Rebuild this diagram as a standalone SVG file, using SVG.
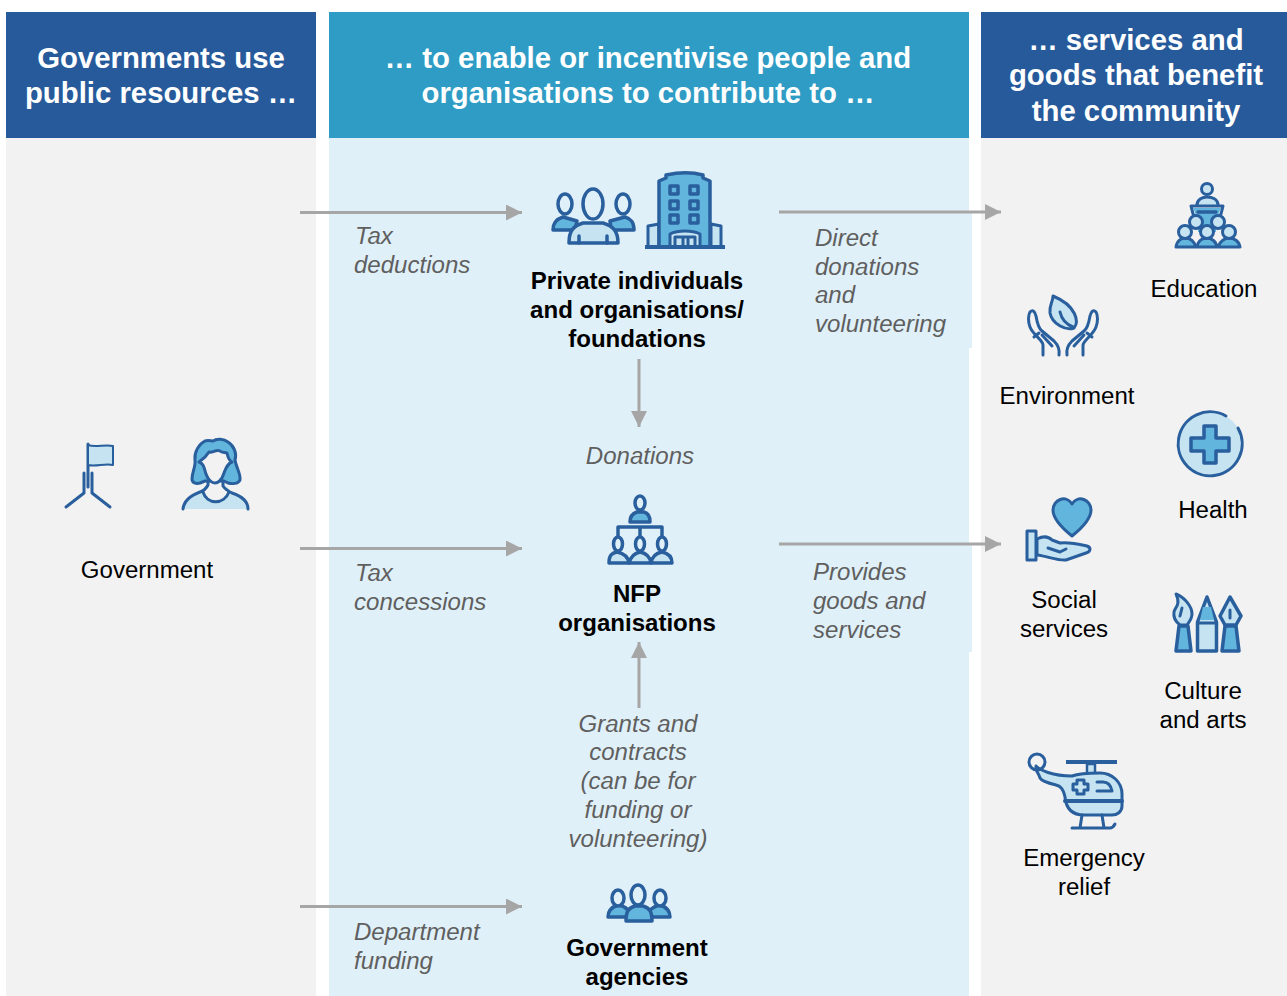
<svg xmlns="http://www.w3.org/2000/svg" width="1287" height="996" viewBox="0 0 1287 996">
<defs>
<marker id="ah" markerUnits="userSpaceOnUse" markerWidth="17" markerHeight="17" refX="16" refY="8" orient="auto"><path d="M0 0L16 8L0 16Z" fill="#a6a6a6"/></marker>
</defs>
<style>
text{font-family:"Liberation Sans",Arial,sans-serif}
.h{font-size:29.33px;font-weight:700;fill:#fff;text-anchor:middle}
.b{font-size:24.05px;fill:#000;text-anchor:middle}
.s{font-size:24.05px;font-weight:700;fill:#000;text-anchor:middle}
.i{font-size:24.05px;font-style:italic;fill:#5f5f5f}
.m{text-anchor:middle}
.c{stroke:#a6a6a6;stroke-width:3;fill:none;marker-end:url(#ah)}
.k{stroke:#2a5f9e;stroke-width:3;fill:none;stroke-linecap:round;stroke-linejoin:round}
.d{stroke:#2a5f9e;stroke-width:3;fill:#62b5dc;stroke-linecap:round;stroke-linejoin:round}
.l{stroke:#2a5f9e;stroke-width:3;fill:#c5e3f1;stroke-linecap:round;stroke-linejoin:round}
.e{stroke:#2a5f9e;stroke-width:3.5;fill:#e0f0f8;stroke-linecap:round;stroke-linejoin:round}
.t{stroke-width:3.5}
</style>
<rect width="1287" height="996" fill="#fff"/>
<g id="panels">
<rect x="6" y="138" width="310" height="858" fill="#f2f2f2"/>
<rect x="329" y="138" width="640" height="858" fill="#e0f0f8"/>
<rect x="969" y="212" width="3" height="136" fill="#e0f0f8"/>
<rect x="969" y="544" width="3" height="108" fill="#e0f0f8"/>
<rect x="981" y="138" width="306" height="858" fill="#f2f2f2"/>
</g>
<g id="header-1"><rect x="6" y="12" width="310" height="126" fill="#265a9b"/>
<text class="h" x="161" y="68">Governments use</text><text class="h" x="161" y="103">public resources …</text></g>
<g id="header-2"><rect x="329" y="12" width="640" height="126" fill="#2e9cc4"/>
<text class="h" x="648" y="68">… to enable or incentivise people and</text><text class="h" x="648" y="103">organisations to contribute to …</text></g>
<g id="header-3"><rect x="981" y="12" width="306" height="126" fill="#265a9b"/>
<text class="h" x="1136" y="50">… services and</text><text class="h" x="1136" y="85">goods that benefit</text><text class="h" x="1136" y="121">the community</text></g>

<g id="connectors">
<path class="c" d="M300 212.500H522"/>
<path class="c" d="M300 548.500H522"/>
<path class="c" d="M300 906.500H522"/>
<path class="c" d="M779 212H1001"/>
<path class="c" d="M779 544H1001"/>
<path class="c" d="M639 359V427"/>
<path class="c" d="M639 708V642"/>
</g>
<g id="connector-labels">
<text class="i" x="355" y="244">Tax</text><text class="i" x="354" y="273">deductions</text>
<text class="i" x="355" y="581">Tax</text><text class="i" x="354" y="610">concessions</text>
<text class="i" x="354" y="940">Department</text><text class="i" x="354" y="969">funding</text>
<text class="i" x="815" y="246">Direct</text><text class="i" x="815" y="275">donations</text><text class="i" x="815" y="303">and</text><text class="i" x="815" y="332">volunteering</text>
<text class="i" x="813" y="580">Provides</text><text class="i" x="813" y="609">goods and</text><text class="i" x="813" y="638">services</text>
<text class="i m" x="640" y="464">Donations</text>
<text class="i m" x="638" y="732">Grants and</text><text class="i m" x="638" y="760">contracts</text><text class="i m" x="638" y="789">(can be for</text><text class="i m" x="638" y="818">funding or</text><text class="i m" x="638" y="847">volunteering)</text>
</g>

<g id="government">
<path class="k" d="M88 444V487M84 473V493L66 507M92 473V493L110 507"/>
<path class="l" d="M88 445C95 448 105 444 113 446V465C105 463 96 467 88 465Z" style="stroke-width:2"/>
<path d="M183 509C184 500 192 495 200 492L208 483H224L232 493C241 496 248 501 248 509Z" fill="#c5e3f1"/>
<path d="M204 491L208 483H224L229 491C224 505 208 505 204 491Z" fill="#f2f2f2"/>
<path class="d" d="M213 441C217 438 224 439 228 442C234 446 237 453 235 460C236 467 241 474 240 480C238 484 232 484 228 483L224 481H205L200 483C196 484 192 483 192 479C192 472 196 466 195 460C194 452 199 444 205 441C208 440 211 441 213 441Z"/>
<path d="M209 452C213 453 216 449 220 451C222 453 225 452 227 453C228 458 230 461 232 462C227 464 226 468 224 473C222 480 218 483 215 483C212 483 208 480 206 474C204 468 204 464 199 462C203 459 206 457 209 452Z" fill="#f2f2f2" stroke="#2a5f9e" stroke-width="3" stroke-linejoin="round"/>
<path class="k" d="M208 481V485C206 489 203 491 200 492C192 495 184 500 183 509M223 481V486C225 489 228 491 232 493C241 496 248 501 248 509M203 492C207 505 224 505 229 492"/>
<text class="b" x="147" y="578">Government</text>
</g>

<g id="private">
<g id="people-3">
<path class="d t" d="M553 230C553 222 557 219 563 217L577 221L575 230Z"/>
<ellipse class="e" cx="565" cy="204" rx="7" ry="10"/>
<path class="d t" d="M611 230L610 221L625 217C631 219 634 222 634 230Z"/>
<ellipse class="e" cx="623" cy="204" rx="7" ry="10"/>
<path class="l t" d="M569 243C569 231 573 226 583 223H603C613 226 618 231 618 243Z"/>
<path class="k t" d="M579 236V243M607 236V243"/>
<ellipse class="e" cx="593" cy="204" rx="10" ry="15"/>
</g>
<g id="building">
<path class="l" d="M648 247V226L659 224V247ZM711 247V224L721 226V247Z"/>
<path class="d t" d="M659 247V181L666 178V175C680 172 692 172 703 175V178L710 181V247Z"/>
<g fill="#62b5dc" stroke="#2a5f9e" stroke-width="3.500" stroke-linejoin="round"><rect x="670" y="186" width="8" height="8"/><rect x="690" y="186" width="8" height="8"/><rect x="670" y="201" width="8" height="8"/><rect x="690" y="201" width="8" height="8"/><rect x="670" y="215" width="8" height="8"/><rect x="690" y="215" width="8" height="8"/></g>
<path class="l" d="M670 247V234C678 230 692 230 700 234V247Z"/>
<path class="k" d="M675 247V237H695V247M683 238V247M688 238V247"/>
<rect x="645" y="245" width="80" height="4" fill="#2a5f9e"/>
</g>
<text class="s" x="637" y="289">Private individuals</text><text class="s" x="637" y="318">and organisations/</text><text class="s" x="637" y="347">foundations</text>
</g>

<g id="nfp">
<ellipse class="e" cx="640" cy="503" rx="5" ry="7"/>
<path class="d t" d="M630 522C630 515 634 513 637 512H644C648 513 650 516 650 522Z"/>
<path class="k t" d="M618 537V527H662V537M640 527V537"/>
<path class="l t" d="M609 563C609 555 612 553 617 552C622 553 628 556 629 563Z"/>
<path class="l t" d="M629 563C631 556 635 553 640 552C645 553 650 556 651 563Z"/>
<path class="l t" d="M651 563C652 556 657 553 662 552C667 553 672 556 672 563Z"/>
<ellipse class="e" cx="618" cy="544" rx="4.500" ry="7"/><ellipse class="e" cx="640" cy="544" rx="4.500" ry="7"/><ellipse class="e" cx="662" cy="544" rx="4.500" ry="7"/>
<text class="s" x="637" y="602">NFP</text><text class="s" x="637" y="631">organisations</text>
</g>

<g id="agencies">
<path class="d t" d="M608 917C608 910 612 907 618 905C624 906 630 909 630 917Z"/>
<path class="d t" d="M648 917C648 910 652 907 660 905C666 907 670 910 670 917Z"/>
<ellipse class="e" cx="618" cy="898" rx="6" ry="8"/><ellipse class="e" cx="660" cy="898" rx="6" ry="8"/>
<path class="d t" d="M626 921C626 912 628 908 635 906H643C650 908 652 912 652 921Z"/>
<ellipse class="e" cx="638" cy="895" rx="7" ry="10"/>
<text class="s" x="637" y="956">Government</text><text class="s" x="637" y="985">agencies</text>
</g>

<g id="education">
<circle class="l" cx="1207" cy="189" r="5.500"/>
<path class="l" d="M1197 205C1197 199 1203 197 1207 197C1212 197 1218 199 1218 205"/>
<path d="M1193 208L1198 220V232H1216V220L1221 208Z" fill="#62b5dc"/>
<path class="k" d="M1191 206H1223L1221 214L1217 219M1191 206L1193 214L1197 219"/>
<path class="k t" d="M1198 212H1216"/>
<path class="d" d="M1176 247C1177 240 1182 238 1185 238C1190 238 1194 241 1196 247ZM1197 247C1198 240 1203 238 1207 238C1211 238 1216 241 1217 247ZM1218 247C1220 241 1225 238 1229 238C1234 238 1239 241 1240 247Z"/>
<circle class="l" cx="1196" cy="222" r="6.500"/><circle class="l" cx="1218" cy="222" r="6.500"/><circle class="l" cx="1185" cy="232" r="6.500"/><circle class="l" cx="1207" cy="232" r="6.500"/><circle class="l" cx="1229" cy="232" r="6.500"/>
<text class="b" x="1204" y="297">Education</text>
</g>
<g id="environment">
<path class="l" d="M1053 296C1053 302 1049 305 1050 313C1052 324 1066 331 1074 328C1079 322 1077 306 1053 296Z"/>
<path class="k" d="M1060 312C1062 321 1068 325 1073 327"/>
<path class="k" d="M1043 355L1043 345C1043 340 1033 335 1030 327C1028 322 1028 315 1030 312C1033 309 1035 312 1036 316C1037 322 1038 328 1042 331L1054 341C1058 345 1060 349 1059 355M1039 333L1034 337M1052 346L1042 335"/>
<path class="k" d="M1083 355L1083 345C1084 340 1093 335 1096 327C1098 322 1098 315 1096 312C1093 309 1091 312 1090 316C1089 322 1088 328 1084 331L1072 341C1068 345 1066 349 1067 355M1087 333L1092 337M1074 346L1084 335"/>
<text class="b" x="1067" y="404">Environment</text>
</g>
<g id="health">
<circle cx="1210" cy="444" r="32" fill="#c5e3f1"/>
<path class="k" d="M1226 416A32 32 0 1 0 1238 428"/>
<path class="d t" d="M1204 426H1216V438H1229V451H1216V463H1204V451H1191V438H1204Z"/>
<text class="b" x="1213" y="518">Health</text>
</g>
<g id="social">
<path class="d" d="M1072 536C1062 528 1053 519 1053 510C1053 500 1066 494 1072 504C1078 494 1091 500 1091 510C1091 519 1082 528 1072 536Z"/>
<path class="l" d="M1037 539C1043 536 1048 536 1052 540L1060 543C1066 542 1078 544 1087 546C1092 548 1090 552 1086 553L1066 560C1058 561 1047 556 1037 555Z"/>
<path class="k" d="M1048 548L1060 552L1066 549"/>
<rect class="l" x="1027" y="531" width="9" height="29"/>
<text class="b" x="1064" y="608">Social</text><text class="b" x="1064" y="637">services</text>
</g>
<g id="culture">
<path class="l" d="M1176 594C1184 597 1192 606 1192 614C1192 619 1189 622 1187 625H1180C1176 622 1173 618 1174 612C1175 607 1181 605 1176 594Z"/>
<path class="k" d="M1182 608L1180 616"/>
<path class="d t" d="M1179 626H1188L1191 651H1176Z"/>
<path class="l t" d="M1197.500 651V622L1207 597L1216.500 622V651Z"/>
<path d="M1203 607H1211L1214 620H1200Z" fill="#62b5dc"/>
<path class="k" d="M1198 623H1216"/>
<path class="l t" d="M1230 597L1241 616L1236 625H1225L1220 616Z"/>
<path class="k" d="M1230 610V618"/>
<path class="d t" d="M1225 626H1236L1239 651H1222Z"/>
<text class="b" x="1203" y="699">Culture</text><text class="b" x="1203" y="728">and arts</text>
</g>
<g id="emergency">
<rect x="1066" y="760" width="51" height="4" fill="#2a5f9e"/>
<path class="l" d="M1087 764H1095V774H1087Z" style="stroke-width:2.500"/>
<path class="l" d="M1036 766C1040 770 1052 776 1072 776C1080 773 1090 773 1100 773C1112 773 1122 782 1122 794V806C1122 812 1117 815 1112 815H1084C1072 815 1066 808 1065 797C1063 788 1060 786 1056 785C1048 783 1041 780 1040 778C1039 773 1035 771 1036 766Z"/>
<circle class="k" cx="1037" cy="762" r="8"/>
<path class="k" d="M1065 801H1122" style="stroke-width:4"/>
<path class="l" d="M1077 780H1084V784H1088V790H1084V794H1077V790H1073V784H1077Z" />
<path class="k" d="M1097 782H1103C1108 782 1111 786 1112 791H1097"/>
<path class="k" d="M1082 815L1080 828M1102 815L1104 828M1072 828H1110C1113 828 1114 826 1115 824"/>
<text class="b" x="1084" y="866">Emergency</text><text class="b" x="1084" y="895">relief</text>
</g>
</svg>
